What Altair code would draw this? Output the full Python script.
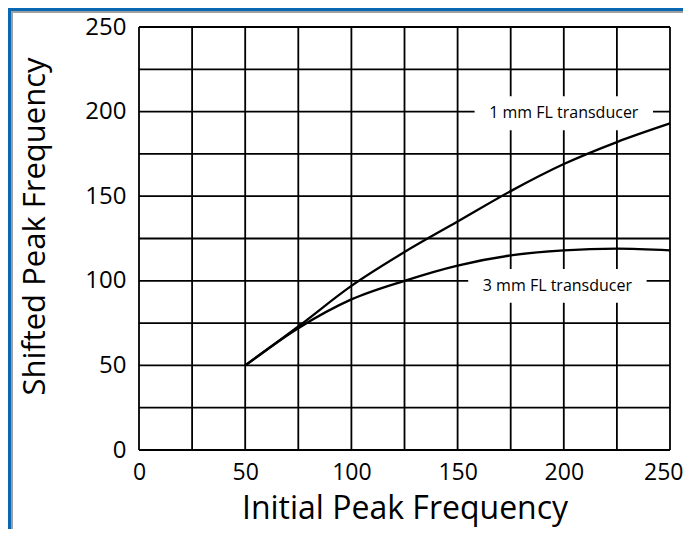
import altair as alt
import pandas as pd

# Curve data
x_vals = [50, 75, 100, 125, 150, 175, 200, 225, 250]
y_1mm = [50, 73, 97, 117, 135, 153, 169, 182, 193]
y_3mm = [50, 72, 89, 100, 109, 115, 118, 119, 118]

series_names = ["1 mm FL transducer", "3 mm FL transducer"]
label_x = [200, 197]
label_y = [199, 97]

grid_vals = [0, 25, 50, 75, 100, 125, 150, 175, 200, 225, 250]
tick_vals = [0, 50, 100, 150, 200, 250]

FONT = "Open Sans"
BLUE = "#0a68b3"

rows = []
for xv, a, b in zip(x_vals, y_1mm, y_3mm):
    rows.append({"x": xv, "y": a, "s": series_names[0]})
    rows.append({"x": xv, "y": b, "s": series_names[1]})
curves = pd.DataFrame(rows)

labels = pd.DataFrame({"text": series_names, "lx": label_x, "ly": label_y})
labels["x0"] = labels["lx"] - 42
labels["x1"] = labels["lx"] + 42
labels["y0"] = labels["ly"] - 10
labels["y1"] = labels["ly"] + 10

grid = pd.DataFrame({"g": grid_vals})

xscale = alt.Scale(domain=[0, 250], nice=False)
yscale = alt.Scale(domain=[0, 250], nice=False)

last_test = "datum.value == 250"
xaxis = alt.Axis(values=tick_vals, grid=False, ticks=False, domain=False,
                 labelFontSize=23, labelFont=FONT, labelColor="black",
                 labelPadding=11, title="Initial Peak Frequency",
                 labelAlign={"condition": {"test": last_test, "value": "right"},
                             "value": "center"},
                 labelOffset={"condition": {"test": last_test, "value": 13},
                              "value": 0},
                 titleFont=FONT, titleFontSize=32, titleFontWeight="normal",
                 titleColor="black", titleBaseline="alphabetic", titleY=68,
                 labelFlush=False, labelOverlap=False, zindex=1)
yaxis = alt.Axis(values=tick_vals, grid=False, ticks=False, domain=False,
                 labelFontSize=24, labelFont=FONT, labelColor="black",
                 labelPadding=13, title="Shifted Peak Frequency",
                 titleFont=FONT, titleFontSize=31, titleFontWeight="normal",
                 titleColor="black", titleBaseline="middle",
                 titleX=-104, titleY=199, labelOverlap=False, zindex=1)

panel = alt.Chart(alt.Data(values=[{}])).mark_rect(
    fill="white", stroke="#a0a0a0", strokeWidth=2
).encode(
    x=alt.value(-127), x2=alt.value(560),
    y=alt.value(-15), y2=alt.value(520)
)

vgrid = alt.Chart(grid).mark_rule(color="black", strokeWidth=1.8).encode(
    x=alt.X("g:Q", scale=xscale, axis=xaxis)
)
hgrid = alt.Chart(grid).mark_rule(color="black", strokeWidth=1.8).encode(
    y=alt.Y("g:Q", scale=yscale, axis=yaxis)
)

label_bg = alt.Chart(labels).mark_rect(fill="white").encode(
    x=alt.X("x0:Q", scale=xscale), x2="x1:Q",
    y=alt.Y("y0:Q", scale=yscale), y2="y1:Q"
)
label_txt = alt.Chart(labels).mark_text(
    font=FONT, fontSize=16, color="black", baseline="middle", align="center"
).encode(
    x=alt.X("lx:Q", scale=xscale), y=alt.Y("ly:Q", scale=yscale), text="text:N"
)

lines = alt.Chart(curves).mark_line(
    color="black", strokeWidth=2.3, interpolate="monotone"
).encode(
    x=alt.X("x:Q", scale=xscale),
    y=alt.Y("y:Q", scale=yscale),
    detail="s:N"
)

chart = alt.layer(panel, vgrid, hgrid, label_bg, label_txt, lines).properties(
    width=531, height=423,
    padding={"left": 131, "top": 19, "right": 13, "bottom": 79},
    autosize=alt.AutoSizeParams(type="none"),
    background=BLUE,
).configure_view(stroke=None)

chart.save("out.html", embed_options={"renderer": "svg", "actions": False})
